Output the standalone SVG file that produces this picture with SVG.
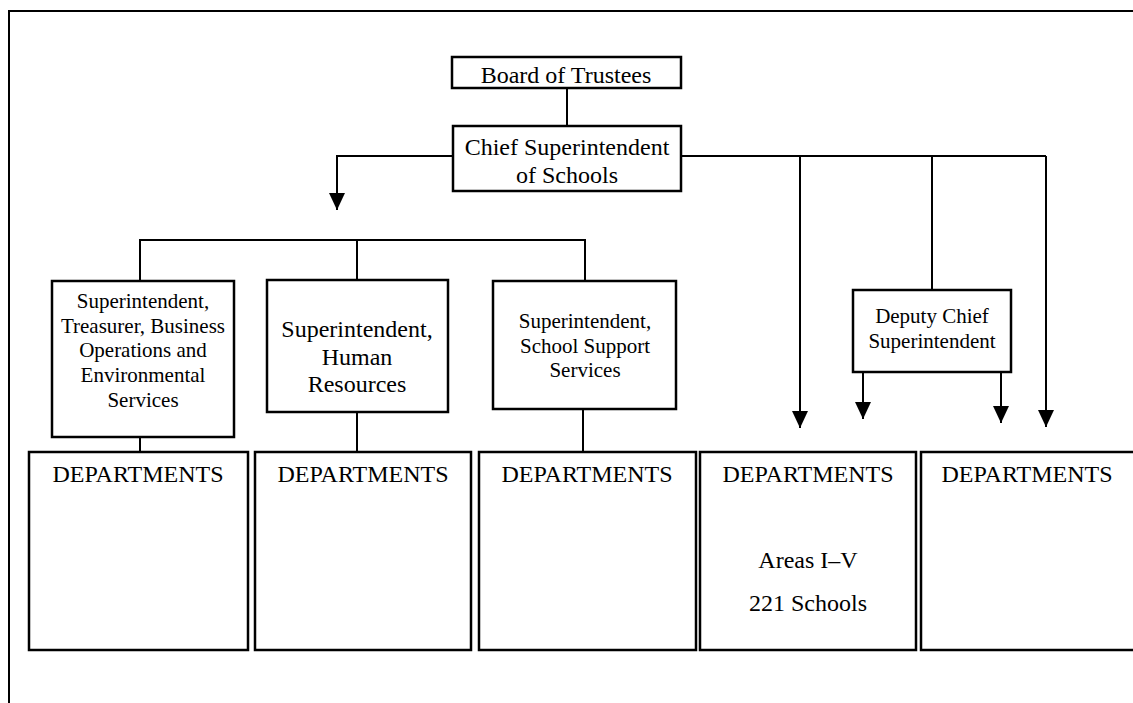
<svg xmlns="http://www.w3.org/2000/svg" width="1133" height="703" viewBox="0 0 1133 703">
<defs>
<marker id="arr" markerUnits="userSpaceOnUse" markerWidth="17" markerHeight="16" refX="17" refY="8" orient="auto">
<path d="M0,0 L17,8 L0,16 Z" fill="#000"/>
</marker>
<style>
.box{fill:#fff;stroke:#000;stroke-width:2.5}
.ln{fill:none;stroke:#000;stroke-width:2}
.t{font-family:"Liberation Serif","Times New Roman",serif;fill:#000;text-anchor:middle}
.big{font-size:24px}
.sm{font-size:21px}
</style>
</defs>
<rect width="1133" height="703" fill="#fff"/>
<g id="frame">
<path class="ln" d="M9,703 L9,11 L1133,11"/>
</g>
<g id="connectors">
<path class="ln" d="M567,88 L567,126"/>
<path class="ln" d="M453,156 L337,156 L337,210" marker-end="url(#arr)"/>
<path class="ln" d="M140,281 L140,240 L585,240 L585,281"/>
<path class="ln" d="M357,240 L357,280"/>
<path class="ln" d="M681,156 L1046,156"/>
<path class="ln" d="M800,156 L800,428" marker-end="url(#arr)"/>
<path class="ln" d="M932,156 L932,290"/>
<path class="ln" d="M1046,156 L1046,427" marker-end="url(#arr)"/>
<path class="ln" d="M863,372 L863,419" marker-end="url(#arr)"/>
<path class="ln" d="M1001,372 L1001,423" marker-end="url(#arr)"/>
<path class="ln" d="M140,437 L140,452"/>
<path class="ln" d="M357,412 L357,452"/>
<path class="ln" d="M583,409 L583,452"/>
</g>
<g id="board">
<rect class="box" x="452" y="57" width="229" height="31"/>
<text class="t big" x="566" y="83">Board of Trustees</text>
</g>
<g id="chief">
<rect class="box" x="453" y="126" width="228" height="65"/>
<text class="t big" x="567" y="155">Chief Superintendent</text>
<text class="t big" x="567" y="183">of Schools</text>
</g>
<g id="sup-treasurer">
<rect class="box" x="52" y="281" width="182" height="156"/>
<text class="t sm" x="143" y="308">Superintendent,</text>
<text class="t sm" x="143" y="333">Treasurer, Business</text>
<text class="t sm" x="143" y="357">Operations and</text>
<text class="t sm" x="143" y="382">Environmental</text>
<text class="t sm" x="143" y="407">Services</text>
</g>
<g id="sup-hr">
<rect class="box" x="267" y="280" width="181" height="132"/>
<text class="t big" x="357" y="337">Superintendent,</text>
<text class="t big" x="357" y="365">Human</text>
<text class="t big" x="357" y="392">Resources</text>
</g>
<g id="sup-sss">
<rect class="box" x="493" y="281" width="183" height="128"/>
<text class="t sm" x="585" y="328">Superintendent,</text>
<text class="t sm" x="585" y="353">School Support</text>
<text class="t sm" x="585" y="377">Services</text>
</g>
<g id="deputy">
<rect class="box" x="853" y="290" width="158" height="82"/>
<text class="t sm" x="932" y="323">Deputy Chief</text>
<text class="t sm" x="932" y="348">Superintendent</text>
</g>
<g id="dept1">
<rect class="box" x="29" y="452" width="219" height="198"/>
<text class="t big" x="138" y="482">DEPARTMENTS</text>
</g>
<g id="dept2">
<rect class="box" x="255" y="452" width="216" height="198"/>
<text class="t big" x="363" y="482">DEPARTMENTS</text>
</g>
<g id="dept3">
<rect class="box" x="479" y="452" width="217" height="198"/>
<text class="t big" x="587" y="482">DEPARTMENTS</text>
</g>
<g id="dept4">
<rect class="box" x="700" y="452" width="216" height="198"/>
<text class="t big" x="808" y="482">DEPARTMENTS</text>
<text class="t big" x="808" y="568">Areas I–V</text>
<text class="t big" x="808" y="611">221 Schools</text>
</g>
<g id="dept5">
<rect class="box" x="921" y="452" width="220" height="198"/>
<text class="t big" x="1027" y="482">DEPARTMENTS</text>
</g>
</svg>
